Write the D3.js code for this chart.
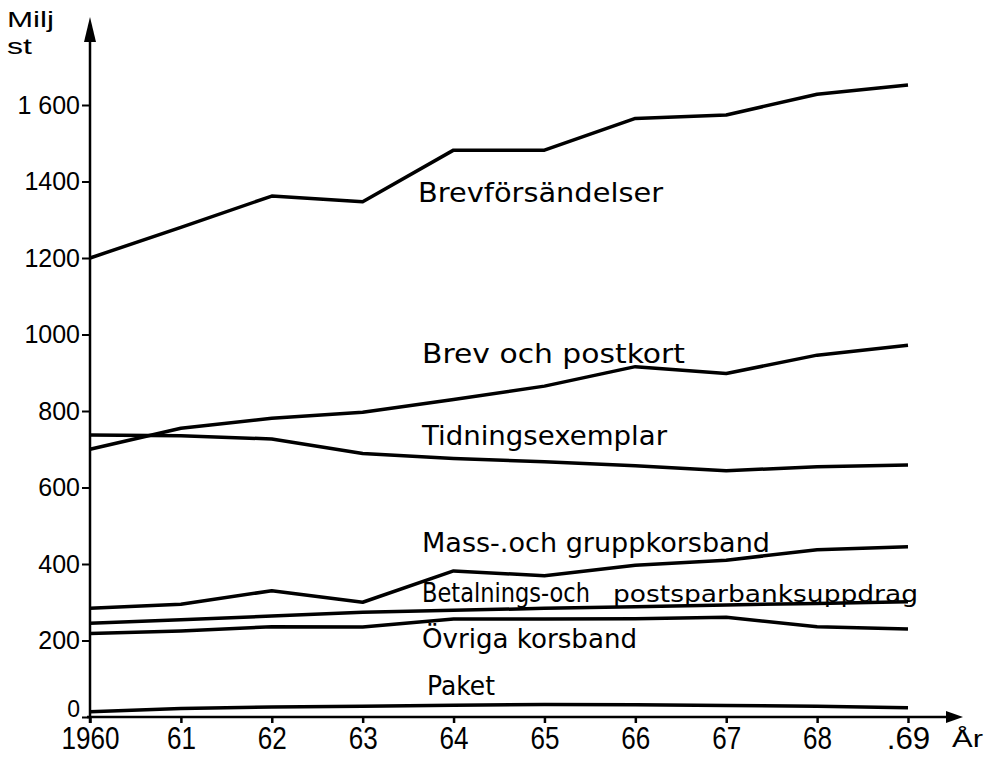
<!DOCTYPE html>
<html>
<head>
<meta charset="utf-8">
<script src="https://cdn.jsdelivr.net/npm/d3@7"></script>
<style>
body{margin:0;background:#fff}
svg{display:block}
</style>
</head>
<body>
<svg width="991" height="757"></svg>
<script>
// data (miljoner st)
var years=[1960,1961,1962,1963,1964,1965,1966,1967,1968,1969];
var xTickLabels=["1960","61","62","63","64","65","66","67","68",".69"];
var yTicks=[0,200,400,600,800,1000,1200,1400,1600];
var yTickLabels=["0","200","400","600","800","1000","1200","1400","1 600"];

var brevforsandelser=[1200,1280,1362,1347,1482,1482,1565,1574,1628,1652];
var brevPostkort=[700,755,781,797,830,865,916,898,946,972];
var tidningsexemplar=[737,735,727,689,676,667,657,644,654,659];
var massGrupp=[284,295,330,300,382,369,397,410,437,445];
var betalnings=[245,254,264,274,279,284,288,293,297,301];
var ovriga=[218,225,236,235,256,256,257,261,236,230];
var paket=[14,22,26,28,31,33,32,30,28,24];

var series=[brevforsandelser,brevPostkort,tidningsexemplar,massGrupp,betalnings,ovriga,paket];

// label placement (pixels), kept apart from the data
var labels=[
  {t:"Brevförsändelser",x:418,y:202,w:245},
  {t:"Brev och postkort",x:422,y:363,w:263},
  {t:"Tidningsexemplar",x:422,y:445,w:245},
  {t:"Mass-.och gruppkorsband",x:422,y:552,w:348},
  {t:"Övriga korsband",x:422,y:648,w:215},
  {t:"Paket",x:427,y:695,w:68}
];

var svg=d3.select("svg");
var x=d3.scaleLinear().domain([1960,1969]).range([90,908]);
var y=d3.scaleLinear().domain([0,1600]).range([717,105]);

// axes lines with arrows
svg.append("line").attr("x1",90).attr("y1",723).attr("x2",90).attr("y2",34)
   .attr("stroke","#000").attr("stroke-width",2.5);
svg.append("path").attr("d","M90,17L84,42L96,42Z").attr("fill","#000");
svg.append("line").attr("x1",87).attr("y1",717).attr("x2",950).attr("y2",717)
   .attr("stroke","#000").attr("stroke-width",2.5);
svg.append("path").attr("d","M963,717L946,711L946,723Z").attr("fill","#000");

var yAxis=svg.append("g").attr("transform","translate(90,0)")
  .call(d3.axisLeft(y).tickValues(yTicks).tickFormat(function(d,i){return yTickLabels[i];})
  .tickSize(8).tickPadding(2));
yAxis.select(".domain").remove();
yAxis.selectAll("line").attr("stroke","#000").attr("stroke-width",2);
yAxis.selectAll("text").attr("font-family","Liberation Sans").attr("font-size",25).attr("fill","#000");
// the zero label sits a little above its tick in the original
yAxis.selectAll("text").filter(function(d){return d===0;}).attr("dy","-0.02em").attr("font-size",23);

var xAxis=svg.append("g").attr("transform","translate(0,717)")
  .call(d3.axisBottom(x).tickValues(years).tickFormat(function(d,i){return xTickLabels[i];})
  .tickSize(6).tickPadding(3));
xAxis.select(".domain").remove();
xAxis.selectAll("line").attr("stroke","#000").attr("stroke-width",2.5);
xAxis.selectAll("text").attr("font-family","Liberation Sans").attr("font-size",32).attr("fill","#000")
  .attr("textLength",function(d,i){return xTickLabels[i].length*14.5;})
  .attr("lengthAdjust","spacingAndGlyphs");

// unit + axis titles
svg.append("text").attr("x",7).attr("y",27).text("Milj")
   .attr("font-family","Liberation Sans").attr("font-size",22)
   .attr("textLength",47).attr("lengthAdjust","spacingAndGlyphs");
svg.append("text").attr("x",7).attr("y",54).text("st")
   .attr("font-family","Liberation Sans").attr("font-size",22)
   .attr("textLength",25).attr("lengthAdjust","spacingAndGlyphs");
svg.append("text").attr("x",952).attr("y",747).text("År")
   .attr("font-family","Liberation Sans").attr("font-size",24)
   .attr("textLength",31).attr("lengthAdjust","spacingAndGlyphs");

// series lines
var line=d3.line().x(function(d,i){return x(years[i]);}).y(function(d){return y(d);});
svg.selectAll(".serie").data(series).enter().append("path")
   .attr("class","serie")
   .attr("d",line)
   .attr("fill","none")
   .attr("stroke","#000")
   .attr("stroke-width",3.5)
   .attr("stroke-linejoin","round");

// series labels
svg.selectAll(".lbl").data(labels).enter().append("text")
   .attr("class","lbl")
   .attr("x",function(d){return d.x;})
   .attr("y",function(d){return d.y;})
   .attr("textLength",function(d){return d.w;})
   .attr("lengthAdjust","spacingAndGlyphs")
   .attr("font-family","DejaVu Sans")
   .attr("font-size",27)
   .text(function(d){return d.t;});

var bet=svg.append("text").attr("y",602).attr("font-family","DejaVu Sans");
bet.append("tspan").attr("x",422).attr("font-size",27)
   .attr("textLength",168).attr("lengthAdjust","spacingAndGlyphs").text("Betalnings-och");
bet.append("tspan").attr("x",613).attr("font-size",23)
   .attr("textLength",305).attr("lengthAdjust","spacingAndGlyphs").text("postsparbanksuppdrag");
</script>
</body>
</html>
